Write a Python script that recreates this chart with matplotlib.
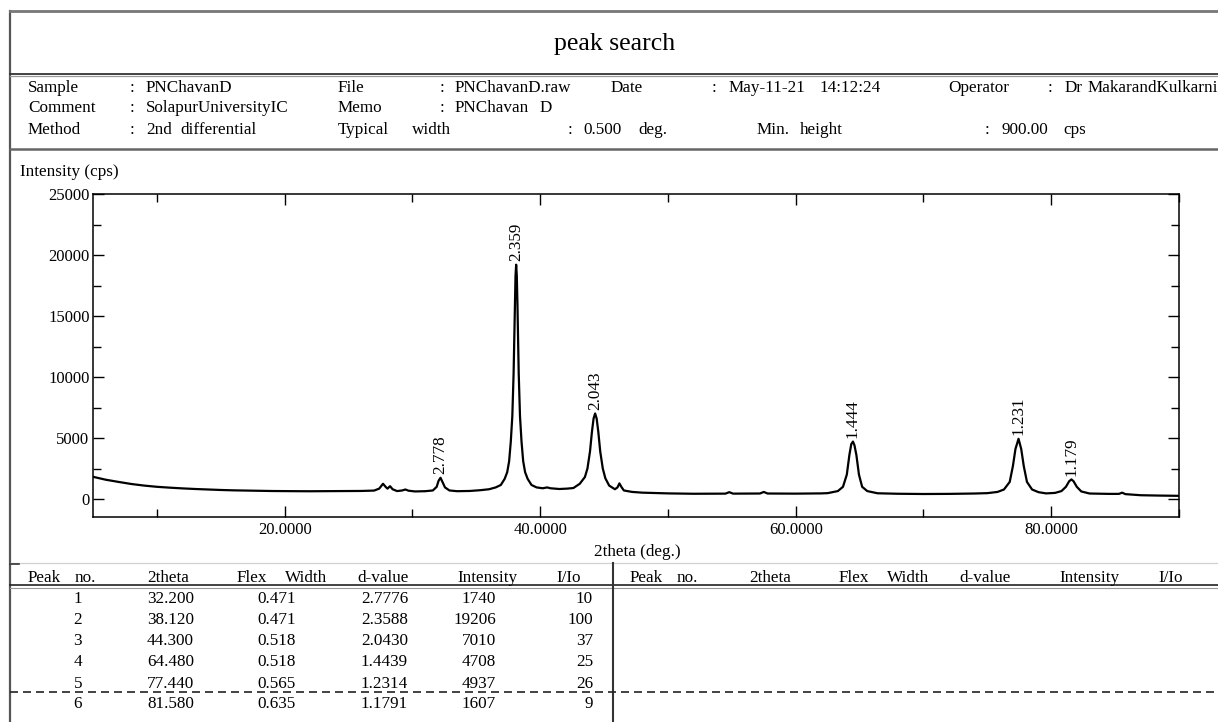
import matplotlib
matplotlib.use("Agg")
import matplotlib.pyplot as plt
from matplotlib.lines import Line2D
from matplotlib.ticker import MultipleLocator, FormatStrFormatter

plt.rcParams["font.family"] = ["Liberation Serif", "DejaVu Serif"]

# ---- measured scan (2theta in degrees, intensity in cps) ----
scan_2theta = [
    5.0, 5.5, 6.0, 7.0, 8.0, 9.0, 10.0, 11.0, 12.0, 13.0, 14.0, 15.0, 16.0,
    17.0, 18.0, 19.0, 20.0, 21.0, 22.0, 23.0, 24.0, 25.0, 26.0, 27.0, 27.4,
    27.7, 27.9, 28.05, 28.25, 28.45, 28.8, 29.2, 29.45, 29.7, 30.2, 31.0,
    31.6, 31.9, 32.05, 32.2, 32.35, 32.55, 32.9, 33.5, 34.5, 35.3, 36.0,
    36.52, 36.92, 37.22, 37.42, 37.57, 37.7, 37.82, 37.92, 37.97, 38.02,
    38.07, 38.12, 38.17, 38.22, 38.27, 38.32, 38.42, 38.54, 38.67, 38.82,
    39.02, 39.32, 39.72, 40.2, 40.55, 40.8, 41.5, 42.1, 42.6, 43.1, 43.5,
    43.7, 43.9, 44.05, 44.18, 44.3, 44.42, 44.55, 44.7, 44.9, 45.1, 45.4,
    45.85, 46.05, 46.2, 46.35, 46.55, 47.2, 48.0, 50.0, 52.0, 54.5, 54.8,
    55.1, 57.2, 57.5, 57.8, 60.0, 62.0, 62.5, 63.3, 63.7, 64.0, 64.2, 64.35,
    64.48, 64.6, 64.75, 64.95, 65.2, 65.6, 66.4, 68.0, 70.0, 72.0, 74.0,
    75.0, 75.8, 76.3, 76.75, 77.0, 77.2, 77.44, 77.65, 77.85, 78.1, 78.5,
    79.0, 79.6, 80.3, 80.8, 81.15, 81.4, 81.58, 81.75, 82.0, 82.35, 83.0,
    84.5, 85.3, 85.55, 85.8, 87.0, 88.5, 90.0,
]
scan_cps = [
    1820, 1700, 1580, 1400, 1230, 1100, 1000, 930, 870, 820, 780, 740, 710,
    690, 670, 655, 645, 640, 635, 640, 645, 650, 660, 690, 850,
    1250, 1000, 850, 1050, 800, 650, 700, 780, 680, 620, 640,
    700, 1000, 1500, 1740, 1400, 950, 700, 640, 660, 720, 800,
    950, 1150, 1650, 2200, 3100, 4700, 6800, 10300, 13000, 16000,
    18300, 19206, 18300, 16000, 13000, 10300, 6800, 4700, 3100, 2200,
    1650, 1150, 950, 880, 950, 880, 820, 850, 900, 1250, 1800,
    2500, 3900, 5500, 6600, 7010, 6600, 5500, 3900, 2500, 1700, 1100,
    800, 950, 1280, 1000, 700, 580, 520, 460, 430, 440, 560,
    440, 450, 580, 450, 440, 460, 480, 650, 1000, 2000, 3600, 4500,
    4708, 4400, 3600, 2000, 1000, 650, 470, 430, 410, 420, 450,
    480, 580, 780, 1400, 2700, 4100, 4937, 4100, 2700, 1400, 780,
    560, 460, 500, 650, 1000, 1450, 1607, 1450, 1000, 620, 450,
    420, 420, 520, 400, 310, 280, 260,
]

# ---- peak search results ----
peak_no = [1, 2, 3, 4, 5, 6]
two_theta = [32.200, 38.120, 44.300, 64.480, 77.440, 81.580]
flex_width = [0.471, 0.471, 0.518, 0.518, 0.565, 0.635]
d_value = [2.7776, 2.3588, 2.0430, 1.4439, 1.2314, 1.1791]
intensity = [1740, 19206, 7010, 4708, 4937, 1607]
rel_intensity = [10, 100, 37, 25, 26, 9]

x_ticks = [20, 40, 60, 80]

W, H = 1218, 722
FS = 12.3
fig = plt.figure(figsize=(W / 100, H / 100), dpi=100)


def fx(px):
    return px / W


def fy(py):
    return 1 - py / H


def hline(y, x0, x1, **kw):
    fig.add_artist(Line2D([fx(x0), fx(x1)], [fy(y), fy(y)],
                          transform=fig.transFigure, **kw))


def vline(x, y0, y1, **kw):
    fig.add_artist(Line2D([fx(x), fx(x)], [fy(y0), fy(y1)],
                          transform=fig.transFigure, **kw))


def put(x, y, s, ha="left", size=FS, **kw):
    # y is the text baseline in pixels from the top
    fig.text(fx(x), fy(y), s, ha=ha, va="baseline", fontsize=size, **kw)


# ---- report frame ----
vline(10, 11, 722, color="#555555", lw=1.6)
hline(11, 10, 1218, color="#777777", lw=2.0)
hline(73.5, 10, 1218, color="#333333", lw=1.3)
hline(76, 10, 1218, color="#999999", lw=0.9)
hline(148.5, 10, 1218, color="#666666", lw=1.8)
hline(563, 10, 1218, color="#d0d0d0", lw=0.9)
hline(563.5, 10, 19, color="#333333", lw=1.2)
hline(585, 10, 1218, color="#222222", lw=1.2)
hline(587.5, 10, 1218, color="#999999", lw=0.8)
vline(613, 563, 722, color="#333333", lw=1.5)
hline(692, 10, 1218, color="#222222", lw=1.2, linestyle=(0, (4.8, 3.0)))

put(615, 50, "peak search", ha="center", size=18.5)

# ---- measurement conditions ----
r1, r2, r3 = 92.5, 112.5, 133.5
for x, s in [(28, "Sample"), (130, ":"), (146, "PNChavanD"),
             (338, "File"), (440, ":"), (455, "PNChavanD.raw"),
             (611, "Date"), (712, ":"), (729, "May-11-21"), (820, "14:12:24"),
             (948, "Operator"), (1048, ":"), (1065, "Dr"), (1088, "MakarandKulkarni")]:
    put(x, r1, s)
for x, s in [(28, "Comment"), (130, ":"), (146, "SolapurUniversityIC"),
             (338, "Memo"), (440, ":"), (455, "PNChavan"), (540, "D")]:
    put(x, r2, s)
for x, s in [(28, "Method"), (130, ":"), (146, "2nd"), (180, "differential"),
             (338, "Typical"), (412, "width"), (568, ":"), (583, "0.500"),
             (638, "deg."), (757, "Min."), (800, "height"), (985, ":"),
             (1001, "900.00"), (1063, "cps")]:
    put(x, r3, s)

# ---- diffraction pattern ----
ax = fig.add_axes([fx(93), fy(517), fx(1179) - fx(93), fy(194) - fy(517)])
ax.plot(scan_2theta, scan_cps, color="black", lw=1.6, solid_joinstyle="round")
ax.set_xlim(5, 90)
ax.set_ylim(-1475, 25000)
ax.set_xticks(x_ticks)
ax.xaxis.set_major_formatter(FormatStrFormatter("%.4f"))
ax.xaxis.set_minor_locator(MultipleLocator(10))
ax.yaxis.set_major_locator(MultipleLocator(5000))
ax.yaxis.set_minor_locator(MultipleLocator(2500))
ax.tick_params(which="both", direction="in", top=True, right=True,
               labelsize=12, width=1.0, color="black")
ax.tick_params(which="major", length=8)
ax.tick_params(which="minor", length=5.5)
ax.tick_params(axis="y", which="major", pad=2.5)
ax.tick_params(axis="x", which="major", pad=3.5)
for sp in ax.spines.values():
    sp.set_linewidth(1.1)

for tt, inten, d in zip(two_theta, intensity, d_value):
    ax.annotate(f"{d:.3f}", xy=(tt, inten), xytext=(0, 2.5),
                textcoords="offset points", rotation=90,
                ha="center", va="bottom", fontsize=FS)

put(20, 175.5, "Intensity (cps)")
put(637, 556, "2theta (deg.)", ha="center")

# ---- peak table ----
hdr_y = 582
header_words = [(28, "Peak"), (75, "no."), (147, "2theta"), (237, "Flex"),
                (285, "Width"), (357, "d-value"), (457, "Intensity"), (556, "I/Io")]
for off in (0, 602):
    for x, s in header_words:
        put(x + off, hdr_y, s)

row_y = [603, 623.5, 645, 666.5, 687.5, 708.5]
for y, n, tt, fw, d, inten, rel in zip(row_y, peak_no, two_theta, flex_width,
                                        d_value, intensity, rel_intensity):
    put(82, y, f"{n}", ha="right")
    put(194, y, f"{tt:.3f}", ha="right")
    put(296, y, f"{fw:.3f}", ha="right")
    put(408, y, f"{d:.4f}", ha="right")
    put(496, y, f"{inten}", ha="right")
    put(593, y, f"{rel}", ha="right")

fig.savefig("out.png", dpi=100)
